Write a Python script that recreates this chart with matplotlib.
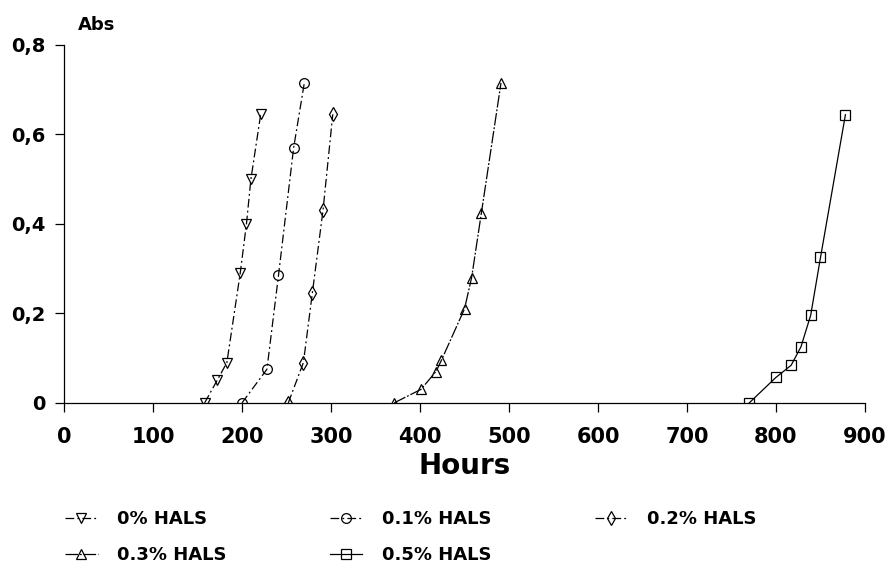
import matplotlib.pyplot as plt
from matplotlib.ticker import FuncFormatter

plt.rcParams['font.family'] = ['DejaVu Sans']
plt.rcParams['font.weight'] = 'bold'

# hours, absorbance per HALS content
h_0 = [158, 172, 183, 198, 205, 210, 221]
abs_0 = [0, 0.05, 0.09, 0.29, 0.40, 0.50, 0.645]

h_01 = [200, 228, 241, 258, 270]
abs_01 = [0, 0.075, 0.285, 0.57, 0.715]

h_02 = [252, 269, 279, 291, 302]
abs_02 = [0, 0.09, 0.245, 0.43, 0.645]

h_03 = [371, 401, 418, 424, 450, 458, 469, 491]
abs_03 = [0, 0.03, 0.07, 0.095, 0.21, 0.28, 0.425, 0.715]

h_05 = [770, 800, 817, 828, 839, 850, 878]
abs_05 = [0, 0.057, 0.084, 0.125, 0.196, 0.325, 0.644]

labels = ['0% HALS', '0.1% HALS', '0.2% HALS', '0.3% HALS', '0.5% HALS']

fig = plt.figure(figsize=(8.89, 5.69), dpi=100)
ax = fig.add_axes([0.072, 0.292, 0.901, 0.629])

dd = (0, (7, 2.5, 1.5, 2.5))
kw = dict(color='black', lw=0.9, ms=7, mfc='none', mew=0.9)
l0, = ax.plot(h_0, abs_0, marker='v', ls=dd, label=labels[0], **kw)
l1, = ax.plot(h_01, abs_01, marker='o', ls=dd, label=labels[1], **kw)
l2, = ax.plot(h_02, abs_02, marker='d', ls=dd, label=labels[2], **kw)
l3, = ax.plot(h_03, abs_03, marker='^', ls=(0, (10, 1.5, 1.5, 1.5)), label=labels[3], **kw)
l4, = ax.plot(h_05, abs_05, marker='s', ls='-', label=labels[4], **kw)

ax.set_xlim(0, 900)
ax.set_ylim(0, 0.8)
ax.set_xticks(range(0, 901, 100))
ax.set_yticks([0, 0.2, 0.4, 0.6, 0.8])
ax.yaxis.set_major_formatter(FuncFormatter(lambda v, p: '0' if v == 0 else f'{v:.1f}'.replace('.', ',')))

for s in ['top', 'right']:
    ax.spines[s].set_visible(False)
for s in ['left', 'bottom']:
    ax.spines[s].set_linewidth(0.9)
ax.tick_params(direction='out', length=6.5, width=0.9)
ax.tick_params(axis='x', labelsize=15, pad=11)
ax.tick_params(axis='y', labelsize=14, pad=7)

ax.set_xlabel('Hours', fontsize=20, fontweight='bold')
ax.xaxis.set_label_coords(0.5, -0.138)
ax.text(0.0175, 1.042, 'Abs', transform=ax.transAxes, fontsize=13, ha='left', va='baseline')

handles = [l0, l3, l1, l4, l2]
fig.legend(handles, [h.get_label() for h in handles], ncol=3, frameon=False,
           loc='upper left', bbox_to_anchor=(65 / 889, 1 - 510 / 569), fontsize=13,
           borderaxespad=0, borderpad=0,
           handlelength=1.8, handletextpad=1.1, columnspacing=5.7, labelspacing=1.0)

fig.savefig('out.png', dpi=100)
